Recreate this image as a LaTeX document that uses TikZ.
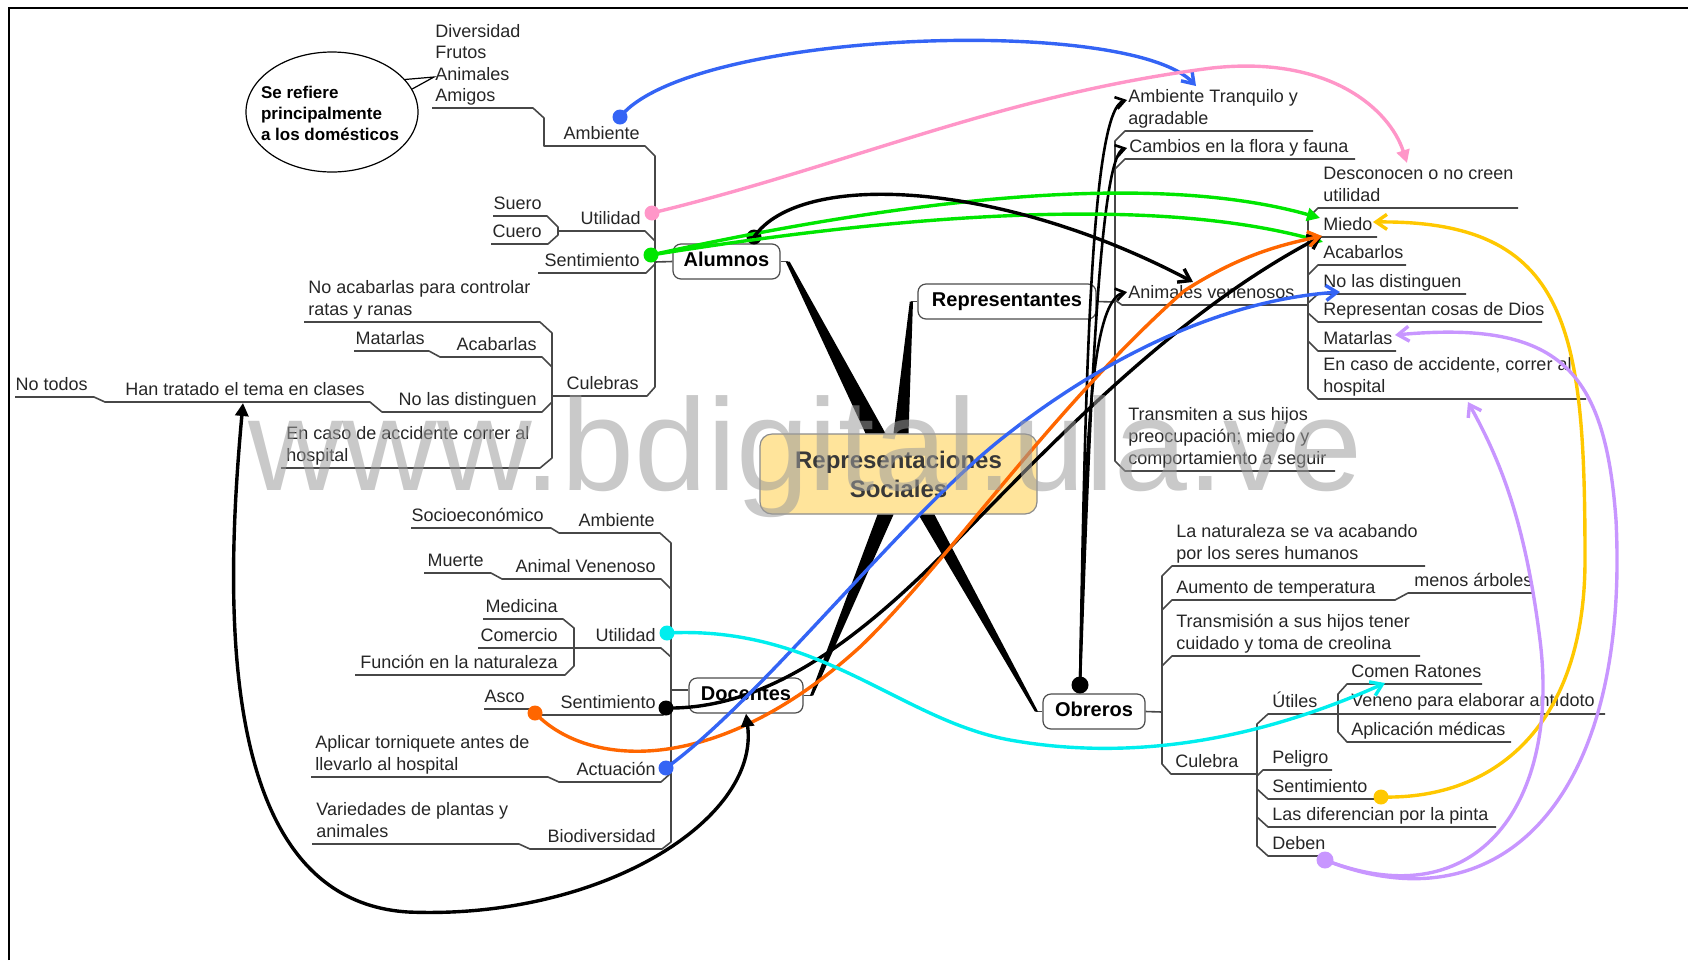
\documentclass[tikz,border=0pt]{standalone}
\usepackage{fontspec}
\setmainfont{Liberation Sans}
\usetikzlibrary{arrows.meta,shapes.geometric}

\definecolor{cBlue}{RGB}{52,100,245}
\definecolor{cPink}{RGB}{255,150,200}
\definecolor{cGreen}{RGB}{0,230,0}
\definecolor{cOrange}{RGB}{255,102,0}
\definecolor{cCyan}{RGB}{0,238,238}
\definecolor{cYellow}{RGB}{255,200,0}
\definecolor{cPurple}{RGB}{200,150,255}
\definecolor{cBox}{RGB}{255,228,155}

\tikzset{
  txt/.style={inner sep=0pt, font=\fontsize{9}{11}\selectfont, align=left, text=black!85, execute at end node=\strut},
  txtl/.style={txt, anchor=south west},
  txtr/.style={txt, anchor=south east},
  branch/.style={draw=black!72, line width=0.8pt, line join=round},
  topic/.style={draw=black!70, fill=white, rounded corners=4pt, line width=0.6pt, inner sep=0pt,
    font=\fontsize{10}{12}\selectfont\bfseries, text height=7.2pt, text depth=2pt, minimum height=17.5pt},
  central/.style={draw=black!45, fill=cBox, rounded corners=6pt, line width=0.6pt, inner sep=0pt, align=center,
    font=\fontsize{12}{14.5}\selectfont\bfseries, text=black!78, minimum width=138.5pt, minimum height=40pt},
  dot/.style={circle, inner sep=0pt, minimum size=7.5pt},
  rel/.style={line width=1.7pt},
  obr/.style={line width=1.3pt, -{Straight Barb[length=4.5pt,width=6pt]}},
  barb/.style={-{Straight Barb[length=5.5pt,width=7.5pt]}},
  tri/.style={-{Triangle[length=6.5pt,width=6.5pt]}}
}

\begin{document}
\begin{tikzpicture}[x=0.5pt,y=-0.5pt]
\useasboundingbox (0,0) rectangle (1688,960);
\draw[line width=1.2pt] (9,960) -- (9,8) -- (1688,8);

% main topics
\node[central] (central) at (898.5,474) {Representaciones\\Sociales};
\node[topic, minimum width=53.5pt] (alumnos) at (726.5,261.5) {Alumnos};
\node[topic, minimum width=89pt] (repr) at (1007,301.5) {Representantes};
\node[topic, minimum width=57pt] (docentes) at (746,695.5) {Docentes};
\node[topic, minimum width=51pt] (obreros) at (1094,711.5) {Obreros};

% wedges to the centre
\draw[branch] (alumnos.east) -- ([xshift=3.5pt]alumnos.east);
\fill ([xshift=2.5pt]alumnos.east) -- ([xshift=4.5pt]alumnos.east) -- ([xshift=-6.5pt]central.north) -- ([xshift=-16.5pt]central.north) -- cycle;
\draw[branch] (repr.west) -- ([xshift=-3pt]repr.west);
\fill ([xshift=-3.8pt]repr.west) -- ([xshift=-2.2pt]repr.west) -- ([xshift=5pt]central.north) -- ([xshift=-2.5pt]central.north) -- cycle;
\draw[branch] (docentes.east) -- ([xshift=4pt]docentes.east);
\fill ([xshift=3.2pt]docentes.east) -- ([xshift=4.8pt]docentes.east) -- ([xshift=-2.5pt]central.south) -- ([xshift=-10.5pt]central.south) -- cycle;
\draw[branch] (obreros.west) -- ([xshift=-3pt]obreros.west);
\fill ([xshift=-3.8pt]obreros.west) -- ([xshift=-2.2pt]obreros.west) -- ([xshift=18pt]central.south) -- ([xshift=10pt]central.south) -- cycle;

% Alumnos
\node[draw, ellipse, line width=0.6pt, inner sep=0pt, minimum width=86pt, minimum height=60pt] (nota) at (332,112) {};
\node[align=left, inner sep=0pt, font=\fontsize{8.5}{10.5}\selectfont\bfseries] (notaTxt) at (330,113) {Se refiere\\principalmente\\a los domésticos};
\coordinate (callout) at (434,77);
\draw[line width=0.6pt] (nota.24) -- (callout) -- (nota.16);
\node[txtl, font=\fontsize{9}{10.6}\selectfont] (lista) at (435,108) {Diversidad\\Frutos\\Animales\\Amigos};
\node[txtr] (aAmb) at (640,146) {Ambiente};
\node[txtr] (aUti) at (641,231) {Utilidad};
\node[txtr] (aSue) at (542,216) {Suero};
\node[txtr] (aCue) at (542,244) {Cuero};
\node[txtr] (aSen) at (640,273) {Sentimiento};
\node[txtr] (aCul) at (639,396) {Culebras};
\node[txtl] (aNoA) at (308,322) {No acabarlas para controlar\\ratas y ranas};
\node[txtr] (aAca) at (537,357) {Acabarlas};
\node[txtr] (aMat) at (425,351) {Matarlas};
\node[txtr] (aNoD) at (537,412) {No las distinguen};
\node[txtr] (aHan) at (365,402) {Han tratado el tema en clases};
\node[txtr] (aNoT) at (88,397) {No todos};
\node[txtl] (aAcc) at (286,468) {En caso de accidente correr al\\hospital};

\draw[branch] (432,108) -- (533,108) -- (544,118) -- (544,146) -- (645,146) -- (655,156) -- (655,387) -- (647,396) -- (552,396);
\draw[branch] (558,231) -- (645,231) -- (655,241);
\draw[branch] (493,216) -- (547,216) -- (558,227) -- (558,235) -- (548,244) -- (491,244);
\draw[branch] (538,273) -- (646,273) -- (655,264);
\draw[branch] (655,262) -- (alumnos.west);
\draw[branch] (304,322) -- (540,322) -- (552,333) -- (552,458) -- (540,468) -- (281,468);
\draw[branch] (354,351) -- (429,351) -- (440,357) -- (542,357) -- (552,367);
\draw[branch] (15,397) -- (94,397) -- (105,402) -- (370,402) -- (382,412) -- (542,412) -- (552,402);
\draw[branch, line width=1.3pt] (552,396) -- (567,396);

% Docentes
\node[txtr] (dAmb) at (655,533) {Ambiente};
\node[txtr] (dSoc) at (544,528) {Socioeconómico};
\node[txtr] (dVen) at (656,579) {Animal Venenoso};
\node[txtr] (dMue) at (484,573) {Muerte};
\node[txtr] (dUti) at (656,648) {Utilidad};
\node[txtr] (dMed) at (558,619) {Medicina};
\node[txtr] (dCom) at (558,648) {Comercio};
\node[txtr] (dFun) at (558,675) {Función en la naturaleza};
\node[txtr] (dSen) at (656,715) {Sentimiento};
\node[txtr] (dAsc) at (525,709) {Asco};
\node[txtr] (dAct) at (656,782) {Actuación};
\node[txtl] (dApl) at (315,777) {Aplicar torniquete antes de\\llevarlo al hospital};
\node[txtr] (dBio) at (656,849) {Biodiversidad};
\node[txtl] (dVar) at (316,844) {Variedades de plantas y\\animales};

\draw[branch] (411,528) -- (551,528) -- (559,533) -- (660,533) -- (671,543) -- (671,842) -- (662,849) -- (530,849) -- (519,844) -- (312,844);
\draw[branch] (424,573) -- (491,573) -- (502,579) -- (661,579) -- (671,589);
\draw[branch] (483,619) -- (563,619) -- (574,628) -- (574,666) -- (565,675) -- (355,675);
\draw[branch] (478,648) -- (661,648) -- (671,657);
\draw[branch] (484,709) -- (531,709) -- (540,715) -- (663,715) -- (671,707);
\draw[branch] (311,777) -- (548,777) -- (559,782) -- (661,782) -- (671,773);
\draw[branch] (671,690) -- (docentes.west |- 671,690);

% Representantes
\node[txtl] (rAmb) at (1128,131) {Ambiente Tranquilo y\\agradable};
\node[txtl] (rCam) at (1129,159) {Cambios en la flora y fauna};
\node[txtl] (rAni) at (1128,305) {Animales venenosos};
\node[txtl] (rTra) at (1128,471) {Transmiten a sus hijos\\preocupación; miedo y\\comportamiento a seguir};
\node[txtl] (vDes) at (1323,208) {Desconocen o no creen\\utilidad};
\node[txtl] (vMie) at (1323,237) {Miedo};
\node[txtl] (vAca) at (1323,265) {Acabarlos};
\node[txtl] (vNoD) at (1323,294) {No las distinguen};
\node[txtl] (vRep) at (1323,322) {Representan cosas de Dios};
\node[txtl] (vMat) at (1323,351) {Matarlas};
\node[txtl] (vAcc) at (1323,399) {En caso de accidente, correr al\\hospital};

\draw[branch] (1313,131) -- (1125,131) -- (1115,141) -- (1115,461) -- (1125,471) -- (1335,471);
\draw[branch] (1355,159) -- (1125,159) -- (1115,169);
\draw[branch] (repr.east) -- (1115,302);
\draw[branch] (1115,300) -- (1122,305) -- (1308,305);
\draw[branch] (1518,208) -- (1318,208) -- (1308,218) -- (1308,389) -- (1318,399) -- (1586,399);
\draw[branch] (1377,237) -- (1318,237) -- (1308,247);
\draw[branch] (1406,265) -- (1318,265) -- (1308,275);
\draw[branch] (1466,294) -- (1318,294) -- (1308,303);
\draw[branch] (1308,313) -- (1318,322) -- (1542,322);
\draw[branch] (1308,341) -- (1318,351) -- (1396,351);

% Obreros
\node[txtl] (oNat) at (1176,566) {La naturaleza se va acabando\\por los seres humanos};
\node[txtl] (oAum) at (1176,600) {Aumento de temperatura};
\node[txtl] (oMen) at (1414,593) {menos árboles};
\node[txtl] (oTra) at (1176,656) {Transmisión a sus hijos tener\\cuidado y toma de creolina};
\node[txtl] (oCul) at (1175,774) {Culebra};
\node[txtl] (oUti) at (1272,714) {Útiles};
\node[txtl] (oCom) at (1351,684) {Comen Ratones};
\node[txtl] (oVen) at (1351,713) {Veneno para elaborar antídoto};
\node[txtl] (oApl) at (1351,742) {Aplicación médicas};
\node[txtl] (oPel) at (1272,770) {Peligro};
\node[txtl] (oSen) at (1272,799) {Sentimiento};
\node[txtl] (oDif) at (1272,827) {Las diferencian por la pinta};
\node[txtl] (oDeb) at (1272,856) {Deben};

\draw[branch] (obreros.east) -- (1162,712);
\draw[branch] (1425,566) -- (1172,566) -- (1162,576) -- (1162,764) -- (1171,774) -- (1242,774);
\draw[branch, line width=1.3pt] (1242,774) -- (1257,774);
\draw[branch] (1533,593) -- (1408,593) -- (1395,600) -- (1172,600) -- (1162,610);
\draw[branch] (1420,656) -- (1172,656) -- (1162,666);
\draw[branch] (1605,714) -- (1268,714) -- (1257,724) -- (1257,846) -- (1268,856) -- (1323,856);
\draw[branch] (1257,776) -- (1263,770) -- (1332,770);
\draw[branch] (1257,789) -- (1268,799) -- (1377,799);
\draw[branch] (1257,817) -- (1268,827) -- (1496,827);
\draw[branch] (1482,684) -- (1347,684) -- (1338,694) -- (1338,732) -- (1347,742) -- (1511,742);

% relation dots
\node[dot, fill=cBlue] (pAmb) at (620,117) {};
\node[dot, fill=cPink] (pUti) at (652,213) {};
\node[dot, fill=cGreen] (pSen) at (651,255) {};
\node[dot, fill=black] (pAlu) at (754,237) {};
\node[dot, fill=cCyan] (pDUti) at (667,633) {};
\node[dot, fill=black] (pDSen) at (666,708) {};
\node[dot, fill=cOrange] (pAsco) at (535,713) {};
\node[dot, fill=cBlue] (pAct) at (666,768) {};
\node[dot, fill=black, minimum size=8.5pt] (pObr) at (1080,685) {};
\node[dot, fill=cYellow] (pOSen) at (1381,797) {};
\node[dot, fill=cPurple, minimum size=8.5pt] (pDeb) at (1325,860) {};

% arrow ends
\coordinate (eTra) at (1196,86);
\coordinate (eDes) at (1407,163);
\coordinate (eMie1) at (1320,218);
\coordinate (eMie2) at (1323,242);
\coordinate (eAni) at (1193,282);
\coordinate (eMie3) at (1322,236);
\coordinate (eNoD) at (1340,292);
\coordinate (eCom) at (1385,683);
\coordinate (eMie4) at (1373,222);
\coordinate (eMat) at (1395,335);
\coordinate (eAcc) at (1468,402);
\coordinate (eHan) at (243,403);
\coordinate (eTra2) at (1127,100);
\coordinate (eCam2) at (1127,148);
\coordinate (eAni2) at (1127,292);

% relations
\draw[obr] (pObr.center) .. controls (1085,400) and (1090,110) .. (eTra2);
\draw[obr] (pObr.center) .. controls (1090,400) and (1100,155) .. (eCam2);
\draw[obr] (pObr.center) .. controls (1085,450) and (1090,300) .. (eAni2);
\draw[rel, cBlue, barb] (pAmb.center) .. controls (690,30) and (1130,15) .. (eTra);
\draw[rel, cPink, tri] (pUti.center) .. controls (850,165) and (1000,95) .. (1212,68) .. controls (1330,55) and (1390,110) .. (eDes);
\draw[rel, cGreen, tri] (pSen.center) .. controls (900,200) and (1150,170) .. (eMie1);
\draw[rel, cGreen, tri] (pSen.center) .. controls (900,215) and (1150,195) .. (eMie2);
\draw[rel, black, barb] (pAlu.center) .. controls (800,170) and (1000,180) .. (eAni);
\draw[rel, black, barb] (pDSen.center) .. controls (780,710) and (880,620) .. (970,527) .. controls (1060,435) and (1180,310) .. (eMie3);
\draw[rel, cOrange, barb] (pAsco.center) .. controls (590,770) and (720,775) .. (861,646) .. controls (950,560) and (1050,410) .. (1184,291) .. controls (1240,255) and (1280,245) .. (eMie3);
\draw[rel, cBlue, barb] (pAct.center) .. controls (760,700) and (900,520) .. (1000,440) .. controls (1100,360) and (1220,300) .. (eNoD);
\draw[rel, cCyan, barb] (pDUti.center) .. controls (820,625) and (900,720) .. (1010,740) .. controls (1150,765) and (1280,730) .. (eCom);
\draw[rel, cYellow, barb] (pOSen.center) .. controls (1500,800) and (1585,720) .. (1585,560) .. controls (1585,330) and (1570,220) .. (eMie4);
\draw[rel, cPurple, barb] (pDeb.center) .. controls (1500,930) and (1630,800) .. (1616,520) .. controls (1605,370) and (1560,320) .. (eMat);
\draw[rel, cPurple, barb] (pDeb.center) .. controls (1480,920) and (1560,800) .. (1540,640) .. controls (1525,520) and (1500,460) .. (eAcc);
\draw[rel, black, {Triangle[length=6.5pt,width=6.5pt]}-{Triangle[length=6.5pt,width=6.5pt]}]
  (eHan) .. controls (225,600) and (215,900) .. (408,912) .. controls (600,920) and (760,820) .. (docentes.south);

% watermark
\node[anchor=base west, inner sep=0pt, font=\fontsize{65.5}{70}\selectfont, text=black!39, text opacity=0.55] (marca) at (248,490) {www.bdigital.ula.ve};
\end{tikzpicture}
\end{document}
